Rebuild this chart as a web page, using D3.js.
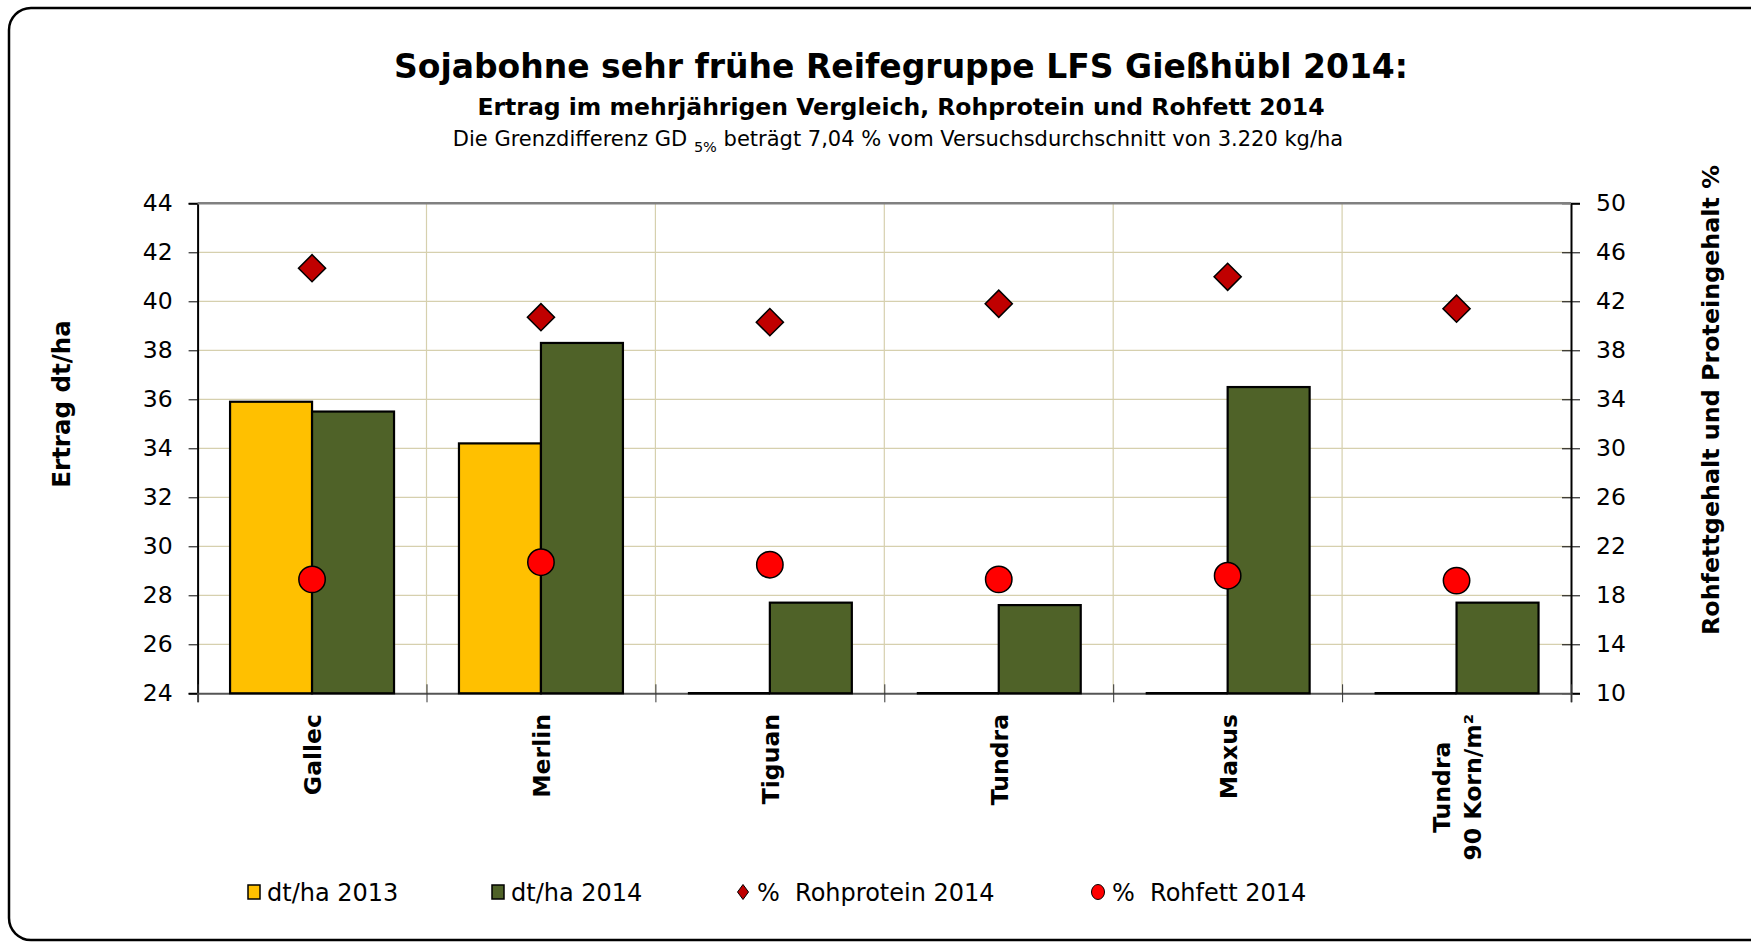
<!DOCTYPE html>
<html>
<head>
<meta charset="utf-8">
<script src="https://cdn.jsdelivr.net/npm/d3@7"></script>
<style>
  body { margin: 0; background: #fff; }
  text { font-family: "DejaVu Sans", Verdana, sans-serif; fill: #000; }
</style>
</head>
<body>
<div id="chart"></div>
<script>
// data
const categories = ["Gallec", "Merlin", "Tiguan", "Tundra", "Maxus", "Tundra\n90 Korn/m²"];
const yield2013 = [35.9, 34.2, null, null, null, null];
const yield2014 = [35.5, 38.3, 27.7, 27.6, 36.5, 27.7];
const protein2014 = [44.7, 40.7, 40.3, 41.8, 44.0, 41.4];
const fat2014 = [19.3, 20.7, 20.5, 19.3, 19.6, 19.2];
const leftTicks = [24, 26, 28, 30, 32, 34, 36, 38, 40, 42, 44];
const rightTicks = [10, 14, 18, 22, 26, 30, 34, 38, 42, 46, 50];
const seriesNames = ["dt/ha 2013", "dt/ha 2014", "%  Rohprotein 2014", "%  Rohfett 2014"];

const W = 1751, H = 943;
const plot = { left: 197.6, right: 1571, top: 203.3, bottom: 693.3 };
const yellow = "#FFC000", green = "#4F6228", darkRed = "#C00000", red = "#FF0000";
const gridColor = "#D6D0AE";

const svg = d3.select("#chart").append("svg")
  .attr("width", W).attr("height", H);

// outer frame
svg.append("rect")
  .attr("x", 9).attr("y", 8).attr("width", 1780).attr("height", 932)
  .attr("rx", 22).attr("ry", 22)
  .attr("fill", "none").attr("stroke", "#000").attr("stroke-width", 2.5);

// titles
svg.append("text").attr("x", 901).attr("y", 78)
  .attr("text-anchor", "middle").style("font-size", "33px").style("font-weight", "bold")
  .text("Sojabohne sehr frühe Reifegruppe LFS Gießhübl 2014:");
svg.append("text").attr("x", 901).attr("y", 115)
  .attr("text-anchor", "middle").style("font-size", "23.5px").style("font-weight", "bold")
  .text("Ertrag im mehrjährigen Vergleich, Rohprotein und Rohfett 2014");
const sub = svg.append("text").attr("x", 898).attr("y", 145.5)
  .attr("text-anchor", "middle").style("font-size", "21px");
sub.append("tspan").text("Die Grenzdifferenz GD ");
sub.append("tspan").attr("dy", 6).style("font-size", "14.5px").text("5%");
sub.append("tspan").attr("dy", -6).text(" beträgt 7,04 % vom Versuchsdurchschnitt von 3.220 kg/ha");

// scales
const x = d3.scaleBand().domain(categories).range([plot.left, plot.right]).padding(0);
const xInner = d3.scaleBand().domain([0, 1]).range([0, x.bandwidth()])
  .paddingInner(0).paddingOuter(0.396);
const yL = d3.scaleLinear().domain([24, 44]).range([plot.bottom, plot.top]);
const yR = d3.scaleLinear().domain([10, 50]).range([plot.bottom, plot.top]);

// grid
svg.append("g").selectAll("line").data(leftTicks.slice(1, -1)).join("line")
  .attr("x1", plot.left).attr("x2", plot.right)
  .attr("y1", d => yL(d)).attr("y2", d => yL(d))
  .attr("stroke", gridColor).attr("stroke-width", 1.2);
svg.append("g").selectAll("line").data(categories.slice(1)).join("line")
  .attr("x1", d => x(d)).attr("x2", d => x(d))
  .attr("y1", plot.top).attr("y2", plot.bottom)
  .attr("stroke", gridColor).attr("stroke-width", 1.2);

// axes
const left = svg.append("g").attr("transform", `translate(${plot.left},0)`)
  .call(d3.axisLeft(yL).tickValues(leftTicks).tickSize(9).tickPadding(16));
const right = svg.append("g").attr("transform", `translate(${plot.right},0)`)
  .call(d3.axisRight(yR).tickValues(rightTicks).tickSize(9).tickPadding(16));
right.selectAll(".tick line").attr("x1", -9);
const bottom = svg.append("g").attr("transform", `translate(0,${plot.bottom})`)
  .call(d3.axisBottom(d3.scaleLinear().domain([0, 6]).range([plot.left, plot.right]))
    .ticks(6).tickSize(9).tickFormat(""));
bottom.selectAll(".tick line").attr("y1", -9);
[left, right].forEach(g => {
  g.select(".domain").attr("stroke", "#000").attr("stroke-width", 2);
  g.selectAll(".tick line").attr("stroke", "#000").attr("stroke-width", 1);
  g.selectAll(".tick text").style("font-size", "23.5px").style("font-family", "DejaVu Sans");
});
bottom.select(".domain").attr("stroke", "#555").attr("stroke-width", 2);
bottom.selectAll(".tick line").attr("stroke", "#333").attr("stroke-width", 1);

// bars
const bars = [];
categories.forEach((c, i) => {
  bars.push({ c, s: 0, v: yield2013[i], color: yellow });
  bars.push({ c, s: 1, v: yield2014[i], color: green });
});
svg.append("g").selectAll("rect").data(bars.filter(d => d.v != null)).join("rect")
  .attr("x", d => x(d.c) + xInner(d.s))
  .attr("width", xInner.bandwidth())
  .attr("y", d => yL(d.v))
  .attr("height", d => plot.bottom - yL(d.v))
  .attr("fill", d => d.color)
  .attr("stroke", "#000").attr("stroke-width", 2.2);
// missing values sit on the baseline as flat bars
svg.append("g").selectAll("line").data(bars.filter(d => d.v == null)).join("line")
  .attr("x1", d => x(d.c) + xInner(d.s))
  .attr("x2", d => x(d.c) + xInner(d.s) + xInner.bandwidth())
  .attr("y1", plot.bottom).attr("y2", plot.bottom)
  .attr("stroke", "#000").attr("stroke-width", 2.5);

// top border of plot
svg.append("line").attr("x1", plot.left).attr("x2", plot.right)
  .attr("y1", plot.top).attr("y2", plot.top)
  .attr("stroke", "#808080").attr("stroke-width", 2.5);

// markers
const diamond = d3.symbol().type(d3.symbolSquare).size(19.2 * 19.2);
svg.append("g").selectAll("path").data(protein2014).join("path")
  .attr("d", diamond)
  .attr("transform", (d, i) => `translate(${x(categories[i]) + x.bandwidth() / 2},${yR(d)}) rotate(45)`)
  .attr("fill", darkRed).attr("stroke", "#000").attr("stroke-width", 1.5);
svg.append("g").selectAll("circle").data(fat2014).join("circle")
  .attr("cx", (d, i) => x(categories[i]) + x.bandwidth() / 2)
  .attr("cy", d => yR(d)).attr("r", 13.2)
  .attr("fill", red).attr("stroke", "#000").attr("stroke-width", 1.5);

// category labels (rotated)
const labelTop = 714;
categories.forEach(c => {
  const lines = c.split("\n");
  const cx = x(c) + x.bandwidth() / 2;
  const g = svg.append("g");
  const texts = lines.map((l, k) => {
    const off = (k - (lines.length - 1) / 2) * 31;
    return g.append("text").attr("text-anchor", "middle")
      .style("font-size", "23.5px").style("font-weight", "bold")
      .attr("transform", `translate(${cx + off + 9},0) rotate(-90)`)
      .text(l);
  });
  const maxLen = d3.max(texts, t => t.node().getComputedTextLength());
  texts.forEach(t => t.attr("x", -(labelTop + maxLen / 2)));
});

// axis titles
svg.append("text").attr("transform", "translate(70,404) rotate(-90)")
  .attr("text-anchor", "middle").style("font-size", "24.5px").style("font-weight", "bold")
  .text("Ertrag dt/ha");
svg.append("text").attr("transform", "translate(1719,400) rotate(-90)")
  .attr("text-anchor", "middle").style("font-size", "23.8px").style("font-weight", "bold")
  .text("Rohfettgehalt und Proteingehalt %");

// legend
const legendY = 892;
const legendX = [248, 492, 742, 1097];
const lg = svg.append("g");
legendX.forEach((lx, i) => {
  if (i < 2) {
    lg.append("rect").attr("x", lx).attr("y", legendY - 7).attr("width", 12).attr("height", 14)
      .attr("fill", i === 0 ? yellow : green).attr("stroke", "#000").attr("stroke-width", 1.5);
  } else if (i === 2) {
    lg.append("path").attr("d", "M0,-7.5L5.5,0L0,7.5L-5.5,0Z")
      .attr("transform", `translate(${lx + 1},${legendY})`)
      .attr("fill", darkRed).attr("stroke", "#000").attr("stroke-width", 1);
  } else {
    lg.append("ellipse").attr("cx", lx + 1).attr("cy", legendY).attr("rx", 6.5).attr("ry", 7.5)
      .attr("fill", red).attr("stroke", "#000").attr("stroke-width", 1);
  }
  lg.append("text").attr("x", lx + (i < 2 ? 19 : 15)).attr("y", legendY + 8.5)
    .style("font-size", "24px").style("white-space", "pre")
    .text(seriesNames[i]);
});
</script>
</body>
</html>
